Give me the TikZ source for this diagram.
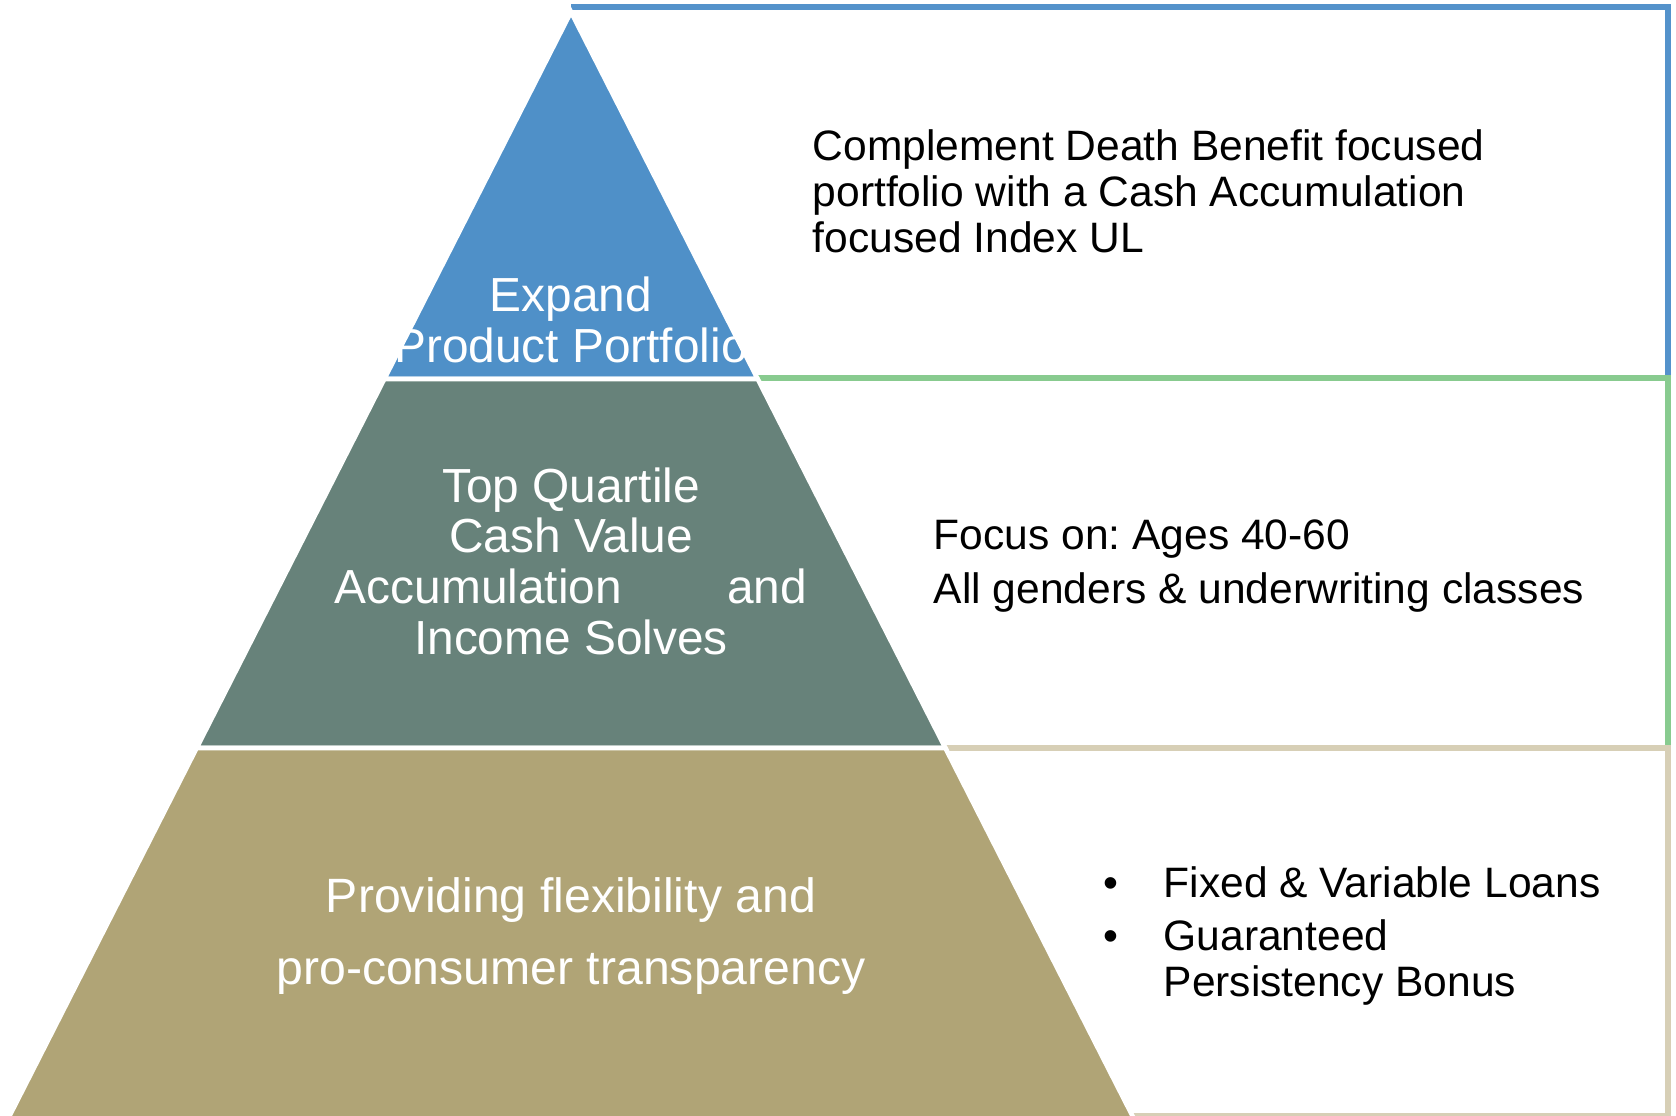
\documentclass[tikz,border=0pt]{standalone}
\usepackage{fontspec}
\setmainfont{Liberation Sans}
\usetikzlibrary{positioning}
\usepackage{xcolor}
\frenchspacing

\definecolor{pyrblue}{RGB}{79,144,200}
\definecolor{pyrteal}{RGB}{103,130,122}
\definecolor{pyrtan}{RGB}{176,164,118}
\definecolor{blueline}{RGB}{84,146,203}
\definecolor{greenline}{RGB}{136,203,143}
\definecolor{tanline}{RGB}{215,207,182}

\begin{document}
\begin{tikzpicture}[x=.01cm, y=-.01cm,
  boxline/.style={line width=1.45pt},
  layer/.style={draw=white, line width=1.3pt},
  pyrtext/.style={text=white, align=center, inner sep=0, font=\fontsize{13.6}{14.4}\selectfont},
  sidetext/.style={anchor=west, align=left, inner sep=0, font=\fontsize{12.1}{13.1}\selectfont}]
\useasboundingbox (0,0) rectangle (1676,1116);
\draw[blueline, boxline] (571,7) -| (1668,378);
\draw[greenline, boxline] (758,378) -| (1668,748);
\draw[tanline, boxline] (946,748) -| (1668,1116) -- (1132,1116);
\foreach \ya/\yb/\col in {12/379/pyrblue, 379/748/pyrteal, 748/1120/pyrtan} {
 \fill[\col, layer] ({571-.5086*(\ya-12)},\ya) -- ({571+.5086*(\ya-12)},\ya)
   -- ({571+.5086*(\yb-12)},\yb) -- ({571-.5086*(\yb-12)},\yb) -- cycle;
}
\node[pyrtext] (expand) at (571,320) {Expand\\Product Portfolio};
\node[pyrtext] (quartile) at (571,561) {Top Quartile\\Cash Value\\\makebox[4.72cm]{Accumulation\hfill and}\\Income Solves};
\node[pyrtext, font=\fontsize{13.7}{20.5}\selectfont] (flexible) at (571,936) {Providing flexibility and\\pro-consumer transparency};
\node[sidetext] (complement) at (812,191) {Complement Death Benefit focused\\portfolio with a Cash Accumulation\\focused Index UL};
\node[sidetext, font=\fontsize{12.1}{15.2}\selectfont] (focus) at (933,566) {Focus on: Ages 40-60\\All genders \& underwriting classes};
\node[sidetext] (features) at (1103,938) {\begin{tabular}{@{}l@{\hspace{.45cm}}l@{}}
  • & Fixed \& Variable Loans\\[2pt]
  • & Guaranteed\\
    & Persistency Bonus
  \end{tabular}};
\end{tikzpicture}
\end{document}
